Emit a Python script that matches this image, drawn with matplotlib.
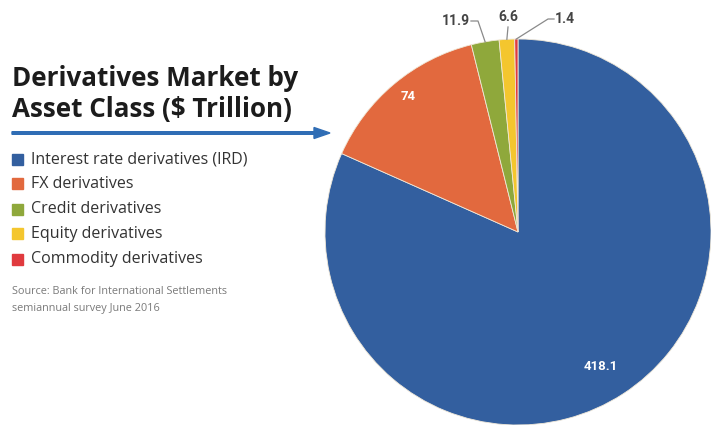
import numpy as np
import matplotlib.pyplot as plt
from matplotlib.patches import Rectangle, FancyArrow

# ---------- data ----------
categories = ['Interest rate derivatives (IRD)', 'FX derivatives', 'Credit derivatives',
              'Equity derivatives', 'Commodity derivatives']
values = [418.1, 74, 11.9, 6.6, 1.4]
value_labels = ['418.1', '74', '11.9', '6.6', '1.4']
colors = ['#335F9F', '#E2693E', '#8FA83B', '#F4C62E', '#E03A3E']

W, H = 711, 425
fig = plt.figure(figsize=(W / 100, H / 100), dpi=100)
fig.patch.set_facecolor('white')

def fx(px):
    return px / W

def fy(py):
    return 1 - py / H

# ---------- pie ----------
cx, cy, R = 518, 232, 193
ax = fig.add_axes([fx(cx - R), fy(cy + R), 2 * R / W, 2 * R / H])
wedges, _ = ax.pie(values, colors=colors, startangle=90, counterclock=False,
                   radius=1.0, wedgeprops=dict(edgecolor='#f0e8d8', linewidth=0.6))
ax.set_xlim(-1, 1)
ax.set_ylim(-1, 1)
ax.set_aspect('auto')
ax.axis('off')

def to_data(px, py):
    return (px - cx) / R, (cy - py) / R

# labels inside the two big slices
inside = {0: (601, 367), 1: (408, 97)}
for i, (px, py) in inside.items():
    x, y = to_data(px, py)
    ax.text(x, y, value_labels[i], color='white', fontsize=9.5, fontweight='bold',
            ha='center', va='center', family='Roboto')

# labels outside for the small slices, with leader lines
outside = {
    2: dict(text=(470, 21), ha='right', elbow=[(478, 21)]),
    3: dict(text=(508, 17), ha='center', elbow=[(508, 27)]),
    4: dict(text=(555, 19), ha='left', elbow=[(548, 19)]),
}
for i, o in outside.items():
    w = wedges[i]
    mid = np.deg2rad((w.theta1 + w.theta2) / 2)
    end = (np.cos(mid) * 1.0, np.sin(mid) * 1.0)
    tx, ty = to_data(*o['text'])
    ax.text(tx, ty, value_labels[i], color='#444444', fontsize=10, fontweight='bold',
            ha=o['ha'], va='center', family='Roboto')
    pts = [to_data(*p) for p in o['elbow']] + [end]
    if o['ha'] == 'right':
        pts = [(tx + 0.005, ty)] + pts
    elif o['ha'] == 'left':
        pts = [(tx - 0.005, ty)] + pts
    xs, ys = zip(*pts)
    ax.plot(xs, ys, color='#8a8a8a', lw=0.9, clip_on=False)

# ---------- title ----------
fig.text(fx(12), fy(79), 'Derivatives Market by', fontsize=18.7, fontweight='bold',
         color='#1c1c1c', ha='left', va='center', family='Open Sans')
fig.text(fx(12), fy(110), 'Asset Class ($ Trillion)', fontsize=18.7, fontweight='bold',
         color='#1c1c1c', ha='left', va='center', family='Open Sans')

# arrow under the title
fig.add_artist(FancyArrow(fx(12), fy(133), fx(318), 0, width=2.6 / H,
                          head_width=11 / H, head_length=16 / W,
                          length_includes_head=True, color='#2F6DB5',
                          transform=fig.transFigure))

# ---------- legend ----------
for k, (name, col) in enumerate(zip(categories, colors)):
    py = 159 + k * 25
    fig.add_artist(Rectangle((fx(12), fy(py + 5.5)), 11 / W, 11 / H,
                             color=col, transform=fig.transFigure))
    fig.text(fx(31), fy(py), name, fontsize=11.5, color='#333333',
             ha='left', va='center', family='Open Sans')

# source
fig.text(fx(12), fy(291), 'Source: Bank for International Settlements',
         fontsize=7.8, color='#7a7a7a', ha='left', va='center', family='Open Sans')
fig.text(fx(12), fy(308), 'semiannual survey June 2016',
         fontsize=7.8, color='#7a7a7a', ha='left', va='center', family='Open Sans')

fig.savefig('out.png', dpi=100)
